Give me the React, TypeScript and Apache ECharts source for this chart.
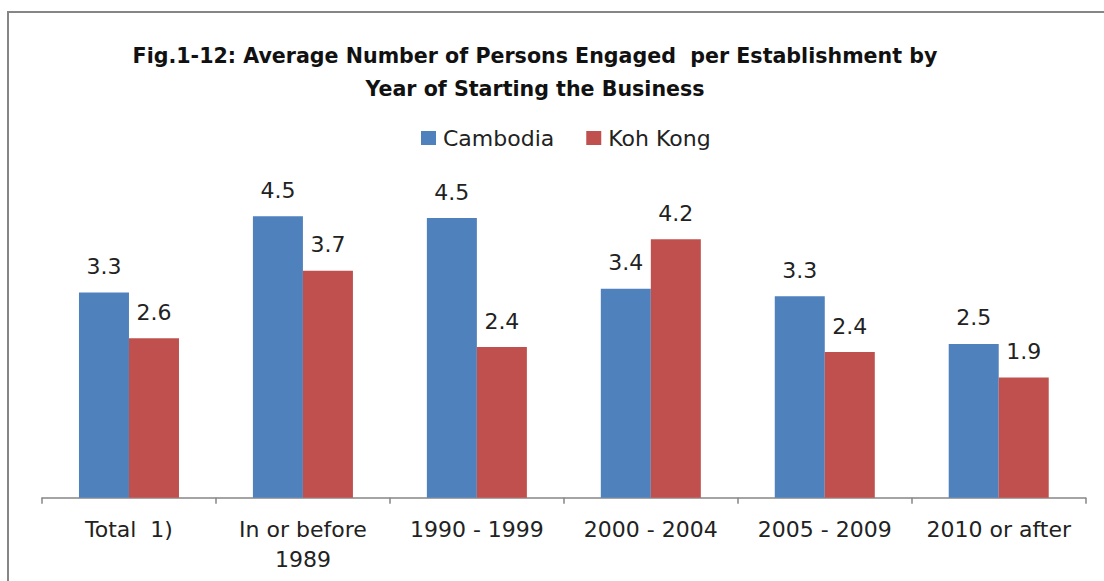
import React, { useEffect, useRef } from "react";
import * as echarts from "echarts";

const titleLines = [
  "Fig.1-12: Average Number of Persons Engaged  per Establishment by",
  "Year of Starting the Business",
];
const categories = ["Total  1)", "In or before\n1989", "1990 - 1999", "2000 - 2004", "2005 - 2009", "2010 or after"];
const seriesNames = ["Cambodia", "Koh Kong"];
const cambodia = [3.31, 4.54, 4.51, 3.37, 3.25, 2.48];
const kohKong = [2.57, 3.66, 2.43, 4.17, 2.35, 1.94];
const colors = ["#4F81BD", "#C0504D"];

const FONT = "DejaVu Sans";

export default function App() {
  const ref = useRef<HTMLDivElement>(null);
  useEffect(() => {
    if (!ref.current) return;
    const chart = echarts.init(ref.current, null, { renderer: "svg" });
    const label = {
      show: true,
      position: "top",
      distance: 15,
      fontFamily: FONT,
      fontSize: 22,
      color: "#222",
      formatter: (p: any) => Number(p.value).toFixed(1),
    };
    chart.setOption({
      animation: false,
      backgroundColor: "#ffffff",
      graphic: [
        {
          type: "rect",
          shape: { x: 8, y: 12, width: 1300, height: 800 },
          style: { fill: "none", stroke: "#868686", lineWidth: 2 },
          silent: true,
        },
      ],
      title: {
        text: titleLines.join("\n"),
        left: 530,
        textAlign: "center",
        top: 34,
        textStyle: {
          fontFamily: FONT,
          fontWeight: "bold",
          fontSize: 20.6,
          lineHeight: 33,
          color: "#111",
        },
      },
      legend: {
        data: seriesNames,
        left: 416,
        top: 122,
        itemWidth: 15,
        itemHeight: 14,
        itemGap: 32,
        icon: "rect",
        textStyle: { fontFamily: FONT, fontSize: 22, color: "#222", padding: [0, 0, 0, 2] },
      },
      grid: { left: 42, right: 18.3, top: 187.7, bottom: 83.3, containLabel: false },
      xAxis: {
        type: "category",
        data: categories,
        axisLine: { show: true, lineStyle: { color: "#868686", width: 1.5 } },
        axisTick: { show: true, length: 6, lineStyle: { color: "#868686", width: 1.5 } },
        axisLabel: {
          fontFamily: FONT,
          fontSize: 22,
          color: "#222",
          margin: 17,
          lineHeight: 30,
          interval: 0,
        },
      },
      yAxis: {
        type: "value",
        min: 0,
        max: 5,
        show: false,
        splitLine: { show: false },
      },
      series: [
        {
          name: seriesNames[0],
          type: "bar",
          data: cambodia,
          barGap: "0%",
          barCategoryGap: "42.5%",
          itemStyle: { color: colors[0] },
          label,
        },
        {
          name: seriesNames[1],
          type: "bar",
          data: kohKong,
          barGap: "0%",
          barCategoryGap: "42.5%",
          itemStyle: { color: colors[1] },
          label,
        },
      ],
    });
    return () => chart.dispose();
  }, []);
  return (
    <div
      ref={ref}
      style={{ position: "fixed", left: 0, top: 0, width: 1104, height: 581 }}
    />
  );
}
